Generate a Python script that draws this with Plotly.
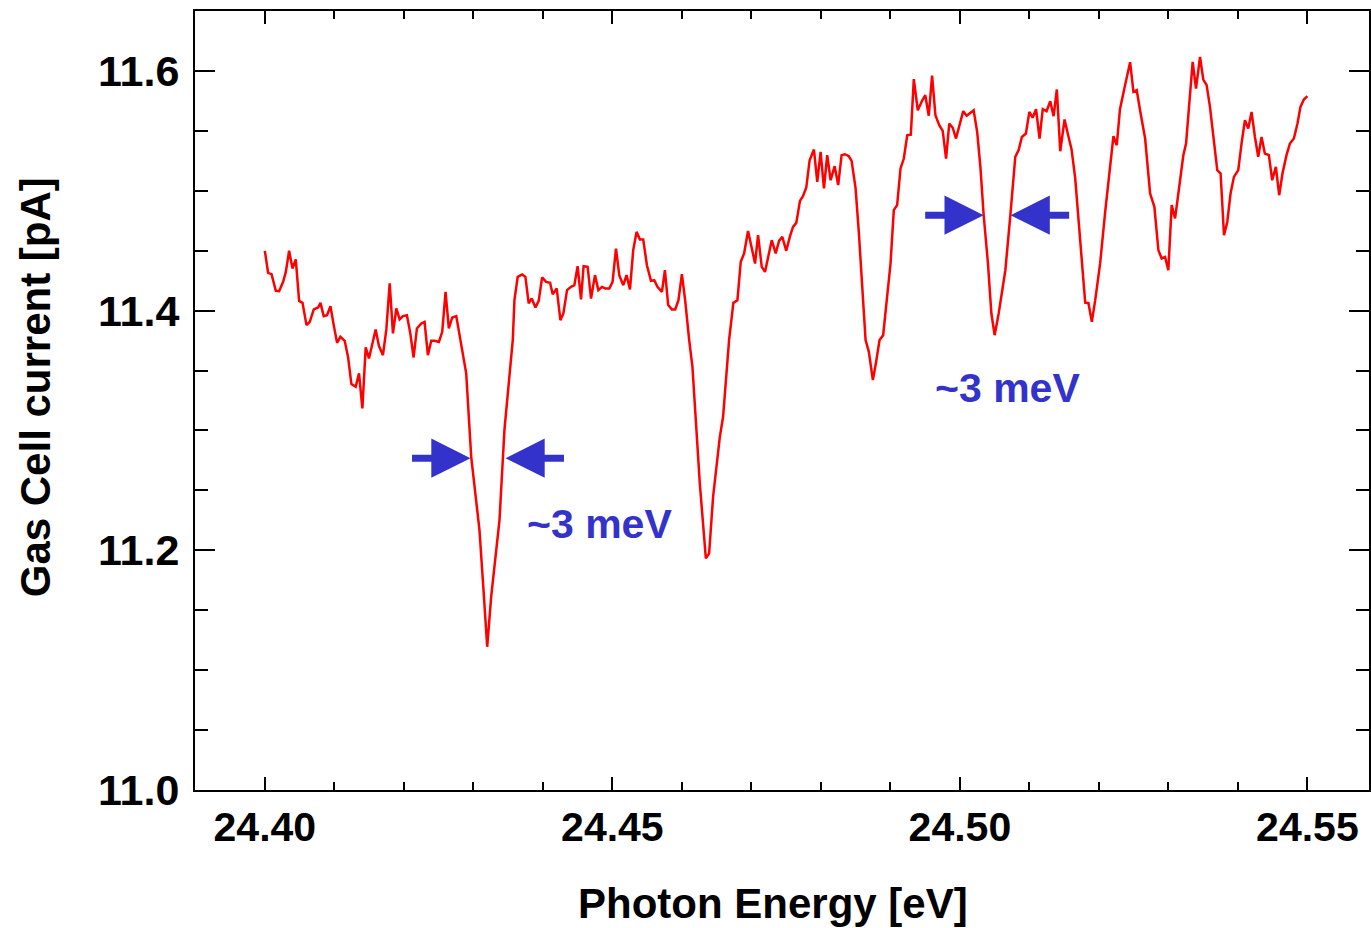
import plotly.graph_objects as go

# Photon energy [eV]
energy = [
24.40000,24.40047,24.40096,24.40158,24.40205,24.40263,24.40302,24.40349,24.40398,24.40445,
24.40493,24.40542,24.40599,24.40646,24.40704,24.40766,24.40800,24.40847,24.40895,24.40944,
24.40991,24.41039,24.41087,24.41149,24.41197,24.41245,24.41307,24.41355,24.41403,24.41451,
24.41498,24.41547,24.41594,24.41642,24.41699,24.41748,24.41796,24.41843,24.41892,24.41939,
24.41987,24.42044,24.42093,24.42140,24.42188,24.42251,24.42298,24.42346,24.42394,24.42442,
24.42504,24.42552,24.42600,24.42647,24.42696,24.42754,24.42825,24.42897,24.42969,24.43088,
24.43146,24.43199,24.43256,24.43311,24.43376,24.43447,24.43519,24.43567,24.43591,24.43638,
24.43702,24.43749,24.43796,24.43840,24.43893,24.43940,24.43989,24.44046,24.44104,24.44141,
24.44199,24.44252,24.44295,24.44348,24.44405,24.44453,24.44500,24.44549,24.44586,24.44644,
24.44693,24.44750,24.44798,24.44851,24.44898,24.44956,24.45003,24.45052,24.45099,24.45157,
24.45204,24.45253,24.45300,24.45348,24.45397,24.45444,24.45497,24.45555,24.45602,24.45649,
24.45713,24.45756,24.45803,24.45856,24.45904,24.45951,24.46000,24.46047,24.46105,24.46152,
24.46205,24.46258,24.46345,24.46392,24.46449,24.46500,24.46546,24.46593,24.46636,24.46679,
24.46741,24.46799,24.46847,24.46895,24.46952,24.47005,24.47053,24.47096,24.47149,24.47196,
24.47244,24.47293,24.47350,24.47398,24.47445,24.47502,24.47556,24.47599,24.47646,24.47699,
24.47742,24.47790,24.47838,24.47900,24.47948,24.47996,24.48044,24.48091,24.48140,24.48198,
24.48249,24.48298,24.48346,24.48403,24.48442,24.48499,24.48547,24.48594,24.48643,24.48690,
24.48748,24.48795,24.48844,24.48896,24.48953,24.49002,24.49049,24.49097,24.49146,24.49193,
24.49243,24.49294,24.49337,24.49394,24.49452,24.49502,24.49552,24.49600,24.49648,24.49703,
24.49753,24.49801,24.49847,24.49897,24.49944,24.49993,24.50048,24.50098,24.50141,24.50198,
24.50249,24.50295,24.50342,24.50404,24.50453,24.50500,24.50558,24.50608,24.50654,24.50726,
24.50797,24.50845,24.50892,24.50950,24.50999,24.51046,24.51096,24.51146,24.51192,24.51247,
24.51300,24.51348,24.51395,24.51444,24.51506,24.51549,24.51606,24.51659,24.51707,24.51754,
24.51803,24.51850,24.51898,24.51947,24.52018,24.52090,24.52162,24.52209,24.52257,24.52303,
24.52367,24.52449,24.52497,24.52544,24.52597,24.52665,24.52737,24.52798,24.52856,24.52903,
24.52952,24.52999,24.53047,24.53096,24.53168,24.53215,24.53254,24.53301,24.53349,24.53397,
24.53455,24.53502,24.53550,24.53598,24.53656,24.53703,24.53751,24.53800,24.53847,24.53894,
24.53943,24.54005,24.54052,24.54101,24.54149,24.54196,24.54245,24.54292,24.54340,24.54388,
24.54446,24.54493,24.54546,24.54594,24.54641,24.54699,24.54748,24.54805,24.54857,24.54900,
24.54949,24.55000,
]

# Gas cell current [pA]
current = [
11.4499,11.4315,11.4304,11.4165,11.4162,11.4240,11.4323,11.4499,11.4352,11.4427,
11.4081,11.4065,11.3879,11.3906,11.4010,11.4026,11.4065,11.3954,11.3962,11.4037,
11.3879,11.3731,11.3781,11.3748,11.3614,11.3387,11.3364,11.3476,11.3184,11.3693,
11.3601,11.3739,11.3843,11.3704,11.3628,11.3843,11.4227,11.3810,11.4018,11.3926,
11.3954,11.3962,11.3810,11.3609,11.3851,11.3893,11.3906,11.3628,11.3748,11.3748,
11.3739,11.3823,11.4156,11.3851,11.3943,11.3954,11.3726,11.3476,11.2780,11.2169,
11.1668,11.1195,11.1612,11.1902,11.2252,11.3003,11.3420,11.3754,11.4087,11.4282,
11.4302,11.4282,11.4060,11.4101,11.4026,11.4081,11.4277,11.4240,11.4232,11.4137,
11.4185,11.3920,11.3976,11.4171,11.4198,11.4212,11.4371,11.4093,11.4371,11.4365,
11.4101,11.4296,11.4171,11.4198,11.4185,11.4185,11.4240,11.4518,11.4296,11.4212,
11.4296,11.4177,11.4504,11.4657,11.4594,11.4594,11.4379,11.4248,11.4254,11.4198,
11.4156,11.4337,11.4046,11.4010,11.4010,11.4087,11.4304,11.4087,11.3754,11.3531,
11.3045,11.2558,11.1933,11.1974,11.2446,11.2711,11.2947,11.3114,11.3437,11.3754,
11.4065,11.4087,11.4407,11.4477,11.4665,11.4532,11.4393,11.4629,11.4365,11.4323,
11.4463,11.4588,11.4477,11.4582,11.4615,11.4499,11.4621,11.4699,11.4732,11.4916,
11.4955,11.5027,11.5255,11.5344,11.5074,11.5324,11.5019,11.5297,11.5088,11.5205,
11.5047,11.5297,11.5305,11.5288,11.5249,11.5022,11.4644,11.4198,11.3754,11.3656,
11.3420,11.3573,11.3754,11.3795,11.4115,11.4393,11.4838,11.4880,11.5186,11.5269,
11.5464,11.5468,11.5931,11.5672,11.5747,11.5797,11.5626,11.5960,11.5630,11.5547,
11.5499,11.5269,11.5561,11.5526,11.5436,11.5539,11.5664,11.5626,11.5647,11.5672,
11.5489,11.5199,11.4796,11.4393,11.3976,11.3795,11.3976,11.4154,11.4337,11.4796,
11.5283,11.5339,11.5449,11.5478,11.5658,11.5610,11.5681,11.5436,11.5681,11.5664,
11.5747,11.5622,11.5845,11.5330,11.5595,11.5484,11.5347,11.5105,11.4755,11.4421,
11.4066,11.4062,11.3906,11.4087,11.4396,11.4821,11.5188,11.5455,11.5380,11.5681,
11.5856,11.6073,11.5825,11.5839,11.5655,11.5436,11.4977,11.4866,11.4504,11.4435,
11.4448,11.4337,11.4880,11.4769,11.5088,11.5297,11.5394,11.5756,11.6075,11.5853,
11.6117,11.5928,11.5881,11.5700,11.5422,11.5172,11.5144,11.4629,11.4740,11.4977,
11.5116,11.5172,11.5394,11.5589,11.5520,11.5658,11.5449,11.5283,11.5449,11.5311,
11.5297,11.5088,11.5199,11.4963,11.5144,11.5297,11.5394,11.5436,11.5561,11.5700,
11.5761,11.5789,
]

x_range = [24.38995, 24.55886]
y_range = [11.0, 11.65]

# FWHM markers: (tip energy, tip current, direction) and label positions
arrow_tip_x = [24.42959, 24.43462, 24.50342, 24.50730]
arrow_tip_y = [11.2769, 11.2769, 11.4796, 11.4796]
arrow_dir = [-1, 1, -1, 1]  # side where tail sits
label_x = [24.44812, 24.50680]
label_y = [11.2219, 11.3353]
label_text = ["~3 meV", "~3 meV"]

FONT = "Liberation Sans, Arial, Helvetica, sans-serif"
BLUE = "#3333cc"

fig = go.Figure()
fig.add_trace(go.Scatter(x=energy, y=current, mode="lines",
                         line=dict(color="#ff0000", width=2.5), showlegend=False))

annotations = []
for tx, ty, d in zip(arrow_tip_x, arrow_tip_y, arrow_dir):
    annotations.append(dict(x=tx, y=ty, xref="x", yref="y", text="", showarrow=True,
                            ax=60 * d, ay=0, arrowhead=2, arrowsize=1.12, arrowwidth=7,
                            arrowcolor=BLUE, standoff=0))
for lx, ly, t in zip(label_x, label_y, label_text):
    annotations.append(dict(x=lx, y=ly, xref="x", yref="y", text=t, showarrow=False,
                            font=dict(family=FONT, size=41, color=BLUE, weight="bold"),
                            xanchor="center", yanchor="middle"))
annotations.append(dict(x=(774 - 195) / 1176, y=-(903 - 790) / 779, xref="paper", yref="paper",
                        text="Photon Energy [eV]", showarrow=False,
                        font=dict(family=FONT, size=42, color="black", weight="bold"),
                        xanchor="center", yanchor="middle"))
annotations.append(dict(x=-(195 - 35) / 1176, y=(790 - 387) / 779, xref="paper", yref="paper",
                        text="Gas Cell current [pA]", showarrow=False, textangle=-90,
                        font=dict(family=FONT, size=42, color="black", weight="bold"),
                        xanchor="center", yanchor="middle"))

xtickfont = dict(family=FONT, size=41, color="black", weight="bold")
ytickfont = dict(family=FONT, size=43, color="black", weight="bold")
fig.update_layout(
    width=1371, height=928,
    margin=dict(l=195, r=0, t=11, b=138, pad=0),
    paper_bgcolor="white", plot_bgcolor="white",
    annotations=annotations,
    xaxis=dict(range=x_range, showgrid=False, zeroline=False, showline=True,
               linecolor="black", linewidth=2, mirror="ticks",
               ticks="inside", ticklen=13, tickwidth=2, tickcolor="black",
               tick0=24.40, dtick=0.05, tickformat=".2f", tickfont=xtickfont,
               minor=dict(ticks="inside", ticklen=8, tickwidth=2, tickcolor="black",
                          dtick=0.01, tick0=24.40, showgrid=False)),
    yaxis=dict(range=y_range, showgrid=False, zeroline=False, showline=True,
               linecolor="black", linewidth=2, mirror="ticks",
               ticks="inside", ticklen=20, tickwidth=2, tickcolor="black",
               tick0=11.0, dtick=0.2, tickformat=".1f", tickfont=ytickfont,
               ticklabelstandoff=5,
               minor=dict(ticks="inside", ticklen=13, tickwidth=2, tickcolor="black",
                          dtick=0.05, tick0=11.0, showgrid=False)),
)

fig.write_html("out.html")
